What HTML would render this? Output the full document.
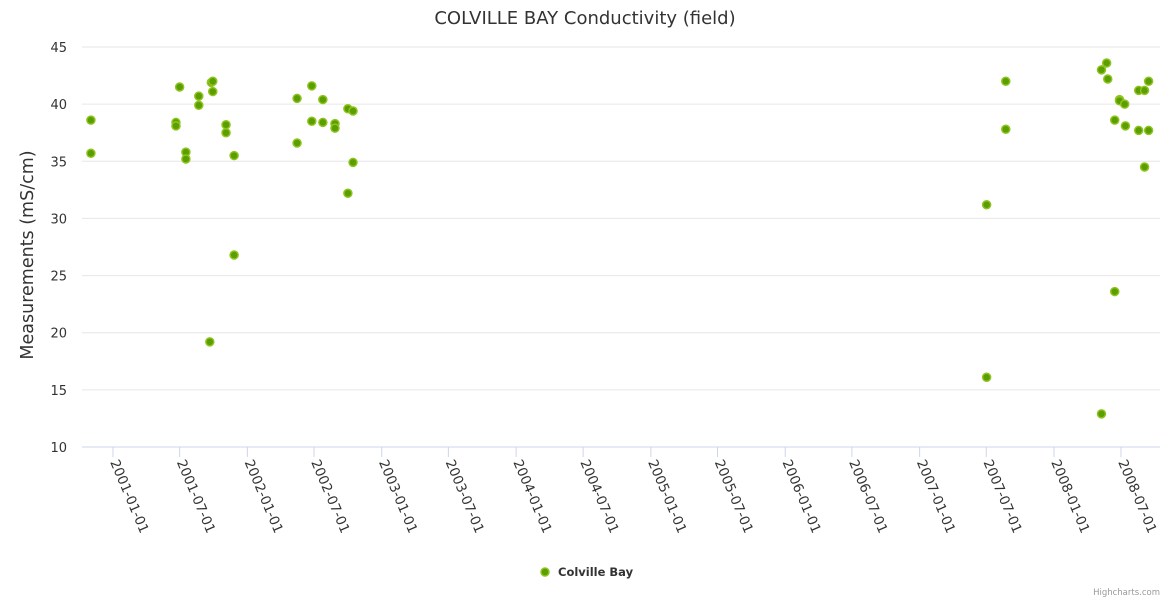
<!DOCTYPE html>
<html><head><meta charset="utf-8">
<style>
body{margin:0;background:#fff;}
svg{display:block;font-family:"DejaVu Sans","Liberation Sans",sans-serif;}
</style></head>
<body>
<svg id="chart" width="1170" height="600">
<text x="585" y="24" text-anchor="middle" font-size="18" fill="#333">COLVILLE BAY Conductivity (field)</text>
<text transform="translate(33,255) rotate(-90)" text-anchor="middle" font-size="17.5" fill="#333">Measurements (mS/cm)</text>
<g id="grid"></g><g id="xaxis"></g><g id="points"></g>
<g>
<circle cx="545" cy="572" r="4" fill="#5a9e00" stroke="#8fc31f" stroke-width="1.5"/>
<text x="558" y="576" font-size="11.5" font-weight="bold" fill="#333">Colville Bay</text>
</g>
<text x="1160" y="595" text-anchor="end" font-size="8.5" fill="#999">Highcharts.com</text>
</svg>
<script>
const yTicks=[10,15,20,25,30,35,40,45];
const xTickLabels=["2001-01-01","2001-07-01","2002-01-01","2002-07-01","2003-01-01","2003-07-01","2004-01-01","2004-07-01","2005-01-01","2005-07-01","2006-01-01","2006-07-01","2007-01-01","2007-07-01","2008-01-01","2008-07-01"];
const dates=["2000-11-02","2000-11-02","2001-06-21","2001-06-21","2001-07-01","2001-07-18","2001-07-18","2001-08-22","2001-08-22","2001-09-21","2001-09-25","2001-09-29","2001-09-29","2001-11-04","2001-11-04","2001-11-26","2001-11-26","2002-05-16","2002-05-16","2002-06-25","2002-06-25","2002-07-25","2002-07-25","2002-08-27","2002-08-27","2002-10-01","2002-10-01","2002-10-15","2002-10-15","2007-07-02","2007-07-02","2007-08-23","2007-08-23","2008-05-09","2008-05-09","2008-05-23","2008-05-26","2008-06-14","2008-06-14","2008-06-27","2008-06-27","2008-07-11","2008-07-13","2008-08-18","2008-08-18","2008-09-03","2008-09-03","2008-09-14","2008-09-14"];
const values=[38.6,35.7,38.4,38.1,41.5,35.8,35.2,40.7,39.9,19.2,41.9,42.0,41.1,38.2,37.5,35.5,26.8,40.5,36.6,41.6,38.5,40.4,38.4,38.3,37.9,39.6,32.2,39.4,34.9,31.2,16.1,42.0,37.8,43.0,12.9,43.6,42.2,38.6,23.6,40.4,40.3,40.0,38.1,41.2,37.7,41.2,34.5,42.0,37.7];
const NS="http://www.w3.org/2000/svg";
const t0=Date.UTC(2001,0,1), t1=Date.UTC(2008,6,1);
function px(d){const t=Date.parse(d+"T00:00:00Z");return 113+(t-t0)/(t1-t0)*1008;}
function py(v){return 447-(v-10)/35*400;}
function mk(tag,attrs,parent){const e=document.createElementNS(NS,tag);for(const k in attrs)e.setAttribute(k,attrs[k]);parent.appendChild(e);return e;}
const grid=document.getElementById('grid');
yTicks.forEach(v=>{
  const l=mk('line',{x1:82,x2:1160,y1:py(v),y2:py(v),stroke:v===10?'#ccd6eb':'#e6e6e6','stroke-width':1},grid);
  
  
  const t=mk('text',{x:67,y:py(v)+5,'text-anchor':'end','font-size':13,fill:'#333'},grid);
  t.textContent=v;
  
  
});
const xa=document.getElementById('xaxis');
xTickLabels.forEach(d=>{
  const x=px(d);
  const l=mk('line',{x1:x,x2:x,y1:447,y2:457,stroke:'#ccd6eb'},xa);
  
  
  const t=mk('text',{transform:`translate(${x-3},462) rotate(67)`,'font-size':13.5,fill:'#333'},xa);
  t.textContent=d;
  
  
});
const pg=document.getElementById('points');
dates.forEach((d,i)=>{
  const c=mk('circle',{cx:px(d),cy:py(values[i]),r:4,fill:'#5a9e00',stroke:'#8fc31f','stroke-width':1.5},pg);
  
  
});
</script>
</body></html>
